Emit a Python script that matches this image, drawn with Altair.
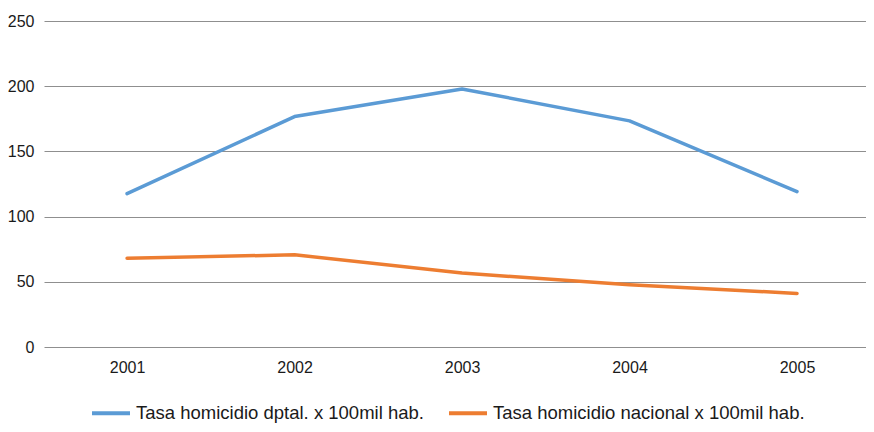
import altair as alt
import pandas as pd

years = [2001, 2002, 2003, 2004, 2005]
dptal = [117.6, 176.7, 197.9, 173.4, 119.2]
nacional = [68.0, 70.7, 56.7, 47.7, 41.1]
series_names = ["Tasa homicidio dptal. x 100mil hab.", "Tasa homicidio nacional x 100mil hab."]
series_colors = ["#5B9BD5", "#ED7D31"]
y_ticks = [0, 50, 100, 150, 200, 250]

rows = []
for i, y in enumerate(years):
    rows.append({"year": y, "value": dptal[i], "serie": series_names[0]})
    rows.append({"year": y, "value": nacional[i], "serie": series_names[1]})
df = pd.DataFrame(rows)

FONT = "Liberation Sans"

chart = alt.Chart(df).mark_line(strokeWidth=3.5, strokeCap="round", strokeJoin="round").encode(
    x=alt.X("year:Q",
            scale=alt.Scale(domain=[2000.504, 2005.412], nice=False, zero=False),
            axis=alt.Axis(values=years, format="d", title=None, grid=False, domain=False,
                          ticks=False, labelPadding=12, labelFontSize=16, labelColor="#1a1a1a",
                          labelFont=FONT)),
    y=alt.Y("value:Q",
            scale=alt.Scale(domain=[0, 250], nice=False),
            axis=alt.Axis(values=y_ticks, title=None, domain=False, ticks=False, labelPadding=10,
                          labelFontSize=16, labelColor="#1a1a1a", labelFont=FONT,
                          gridColor="#8f8f8f", gridWidth=1, gridOpacity=1)),
    color=alt.Color("serie:N",
                    scale=alt.Scale(domain=series_names, range=series_colors),
                    legend=alt.Legend(title=None, orient="none", direction="horizontal",
                                      legendX=46, legendY=371, symbolType="stroke",
                                      symbolSize=1444, symbolStrokeWidth=4,
                                      labelFontSize=18.5, labelFont=FONT, labelColor="#1a1a1a",
                                      labelOffset=4, columnPadding=17, labelLimit=400)),
).properties(
    width=822, height=326,
    autosize=alt.AutoSizeParams(type="none"),
    padding={"left": 36, "top": 13, "right": 0, "bottom": 77},
).configure_view(stroke=None)

chart.save("out.html", embed_options={"renderer": "svg", "actions": False})
